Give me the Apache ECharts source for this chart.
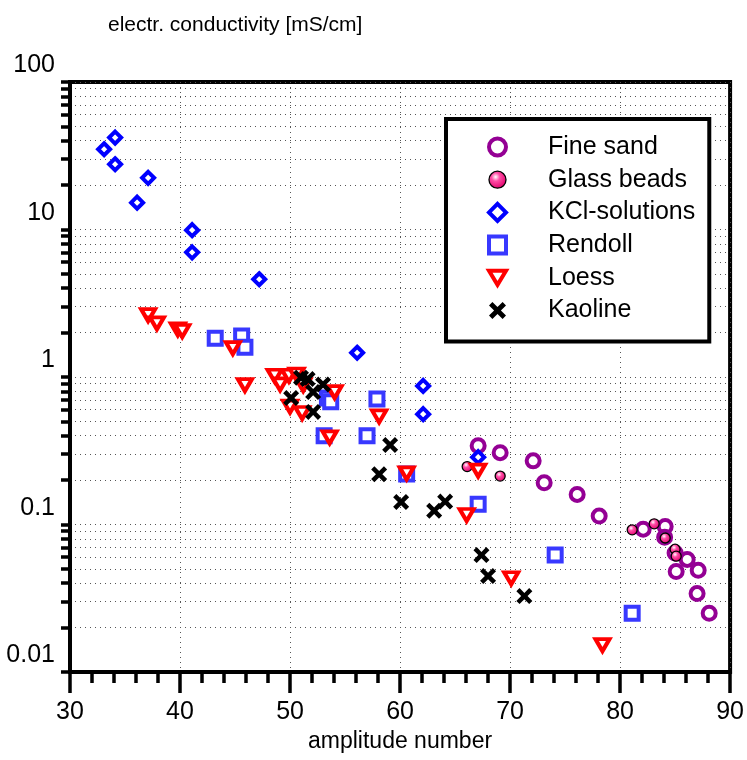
<!DOCTYPE html>
<html>
<head>
<meta charset="utf-8">
<script src="https://cdn.jsdelivr.net/npm/echarts@6/dist/echarts.min.js"></script>
<style>html,body{margin:0;padding:0;background:#fff}#c{width:747px;height:760px}</style>
</head>
<body>
<div id="c"></div>
<script>
// ---- data ----
const seriesNames = ['Fine sand', 'Glass beads', 'KCl-solutions', 'Rendoll', 'Loess', 'Kaoline'];

const fineSandX = [67.1, 69.1, 72.1, 73.1, 76.1, 78.1, 82.1, 84.1, 84.05, 85.0, 86.1, 85.1, 87.1, 87.0, 88.1];
const fineSandY = [0.342, 0.307, 0.27, 0.192, 0.16, 0.114, 0.093, 0.097, 0.082, 0.064, 0.058, 0.048, 0.049, 0.034, 0.025];

const glassX = [66.1, 69.1, 81.1, 83.1, 84.1, 85.0, 85.1];
const glassY = [0.247, 0.213, 0.092, 0.101, 0.081, 0.068, 0.061];

const kclX = [33.1, 34.1, 34.1, 36.1, 37.1, 41.1, 41.1, 47.2, 56.1, 62.1, 62.1, 67.1];
const kclY = [35, 42, 27.7, 15.2, 22.4, 9.9, 7.0, 4.6, 1.46, 0.87, 0.56, 0.286];

const rendollX = [43.2, 45.6, 45.9, 53.4, 53.7, 57.9, 53.1, 57.0, 60.6, 67.1, 74.1, 81.1];
const rendollY = [1.83, 1.90, 1.59, 0.72, 0.68, 0.71, 0.40, 0.40, 0.22, 0.137, 0.062, 0.025];

const loessX = [37.1, 37.9, 39.8, 40.2, 44.8, 45.9, 48.6, 49.1, 49.9, 50.6, 51.2, 54.05, 50.0, 51.1, 53.6, 58.1, 60.6, 66.05, 67.1, 70.1, 78.4];
const loessY = [2.63, 2.31, 2.1, 2.05, 1.57, 0.88, 1.02, 0.89, 1.02, 1.04, 0.88, 0.79, 0.63, 0.57, 0.39, 0.54, 0.222, 0.116, 0.232, 0.0432, 0.0152];

const kaolineX = [51.0, 51.6, 53.0, 52.1, 50.1, 52.1, 59.1, 58.1, 60.1, 63.1, 64.1, 67.4, 68.0, 71.3];
const kaolineY = [0.99, 0.97, 0.89, 0.79, 0.72, 0.58, 0.346, 0.219, 0.142, 0.124, 0.143, 0.062, 0.0448, 0.0327];

const yLabelValues = [0.01, 0.1, 1, 10, 100];
const yLabelTexts = ['0.01', '0.1', '1', '10', '100'];
const yTickValues = [0.01, 0.02, 0.03, 0.04, 0.05, 0.06, 0.07, 0.08, 0.09,
  0.1, 0.2, 0.3, 0.4, 0.5, 0.6, 0.7, 0.8, 0.9,
  1, 2, 3, 4, 5, 6, 7, 8, 9,
  10, 20, 30, 40, 50, 60, 70, 80, 90, 100];

const xTitle = 'amplitude number';
const yTitle = 'electr. conductivity [mS/cm]';

// ---- chart ----
const FONT = '"Liberation Sans", Arial, Helvetica, sans-serif';
const pairs = (xs, ys) => xs.map((x, i) => [x, ys[i]]);
const xPath = 'path://M0,2L2,0L5,3L8,0L10,2L7,5L10,8L8,10L5,7L2,10L0,8L3,5Z';
const downTri = 'path://M0,0L12,0L6,10Z';

const chart = echarts.init(document.getElementById('c'), null, {renderer: 'canvas'});
const option = {
  animation: false,
  backgroundColor: '#fff',
  textStyle: {fontFamily: FONT},
  title: {
    text: yTitle, left: 103, top: 10,
    textStyle: {fontSize: 21, fontWeight: 'normal', color: '#000', fontFamily: FONT}
  },
  grid: {left: 70, right: 15, top: 82, bottom: 88, show: true, borderColor: '#000', borderWidth: 4, backgroundColor: 'transparent'},
  legend: {
    orient: 'vertical', left: 446, top: 119,
    padding: [15, 14, 18, 41],
    itemWidth: 17, itemHeight: 17, itemGap: 6.7,
    backgroundColor: '#fff', borderColor: '#000', borderWidth: 4,
    selectedMode: false,
    itemStyle: {borderWidth: 'inherit'},
    textStyle: {fontSize: 25, color: '#000', lineHeight: 26, fontFamily: FONT, padding: [0, 0, 0, 37]},
    data: seriesNames.map(n => n === 'Loess' ? {name: n, icon: downTri} : {name: n})
  },
  xAxis: {
    type: 'value', min: 30, max: 90, interval: 10,
    name: xTitle, nameLocation: 'middle', nameGap: 56,
    nameTextStyle: {fontSize: 23, color: '#000', fontFamily: FONT},
    axisLine: {show: true, onZero: false, lineStyle: {color: '#000', width: 4}},
    axisTick: {show: true, inside: false, length: 21, lineStyle: {color: '#000', width: 3.5}},
    minorTick: {show: true, splitNumber: 5, length: 11, lineStyle: {color: '#000', width: 3.5}},
    axisLabel: {fontSize: 25, color: '#000', margin: 28, fontFamily: FONT},
    splitLine: {show: true, lineStyle: {color: '#555', width: 1, type: [1, 4]}},
    minorSplitLine: {show: false}
  },
  yAxis: {
    type: 'log', logBase: 10, min: 0.01, max: 100,
    axisLine: {show: true, onZero: false, lineStyle: {color: '#000', width: 4}},
    axisTick: {show: true, inside: false, length: 9, customValues: yTickValues, lineStyle: {color: '#000', width: 3.5}},
    minorTick: {show: false},
    axisLabel: {
      fontSize: 25, color: '#000', margin: 15, fontFamily: FONT,
      customValues: yLabelValues,
      verticalAlign: 'bottom', padding: [0, 0, 4, 0],
      formatter: function (v) {
        let best = 0, bd = Infinity;
        yLabelValues.forEach((lv, i) => { const d = Math.abs(Math.log10(lv) - Math.log10(v)); if (d < bd) { bd = d; best = i; } });
        return yLabelTexts[best];
      }
    },
    splitLine: {show: true, lineStyle: {color: '#555', width: 1, type: [1, 4]}},
    minorSplitLine: {show: false}
  },
  series: [
    {
      name: seriesNames[0], type: 'scatter', data: pairs(fineSandX, fineSandY),
      symbol: 'circle', symbolSize: 13, symbolKeepAspect: true,
      itemStyle: {color: '#ffffff', borderColor: '#940094', borderWidth: 4, opacity: 1}
    },
    {
      name: seriesNames[1], type: 'scatter', data: pairs(glassX, glassY),
      symbol: 'circle', symbolSize: 10, symbolKeepAspect: true,
      itemStyle: {
        color: {type: 'radial', x: 0.4, y: 0.35, r: 0.65, colorStops: [
          {offset: 0, color: '#ffffff'}, {offset: 0.35, color: '#ff4da6'}, {offset: 1, color: '#e0006a'}]},
        borderColor: '#000', borderWidth: 1.3, opacity: 1
      }
    },
    {
      name: seriesNames[2], type: 'scatter', data: pairs(kclX, kclY),
      symbol: 'diamond', symbolSize: 12, symbolKeepAspect: true,
      itemStyle: {color: '#ffffff', borderColor: '#0000ff', borderWidth: 4, opacity: 1}
    },
    {
      name: seriesNames[3], type: 'scatter', data: pairs(rendollX, rendollY),
      symbol: 'rect', symbolSize: 13, symbolKeepAspect: true,
      itemStyle: {color: '#ffffff', borderColor: '#3838ff', borderWidth: 4, opacity: 1}
    },
    {
      name: seriesNames[4], type: 'scatter', data: pairs(loessX, loessY),
      symbol: 'triangle', symbolSize: [14, 12], symbolRotate: 180, symbolKeepAspect: true,
      itemStyle: {color: '#ffffff', borderColor: '#ff0000', borderWidth: 4, opacity: 1}
    },
    {
      name: seriesNames[5], type: 'scatter', data: pairs(kaolineX, kaolineY),
      symbol: xPath, symbolSize: 16, symbolKeepAspect: true,
      itemStyle: {color: '#000000', borderWidth: 0, opacity: 1}
    }
  ]
};
chart.setOption(option);
</script>
</body>
</html>
